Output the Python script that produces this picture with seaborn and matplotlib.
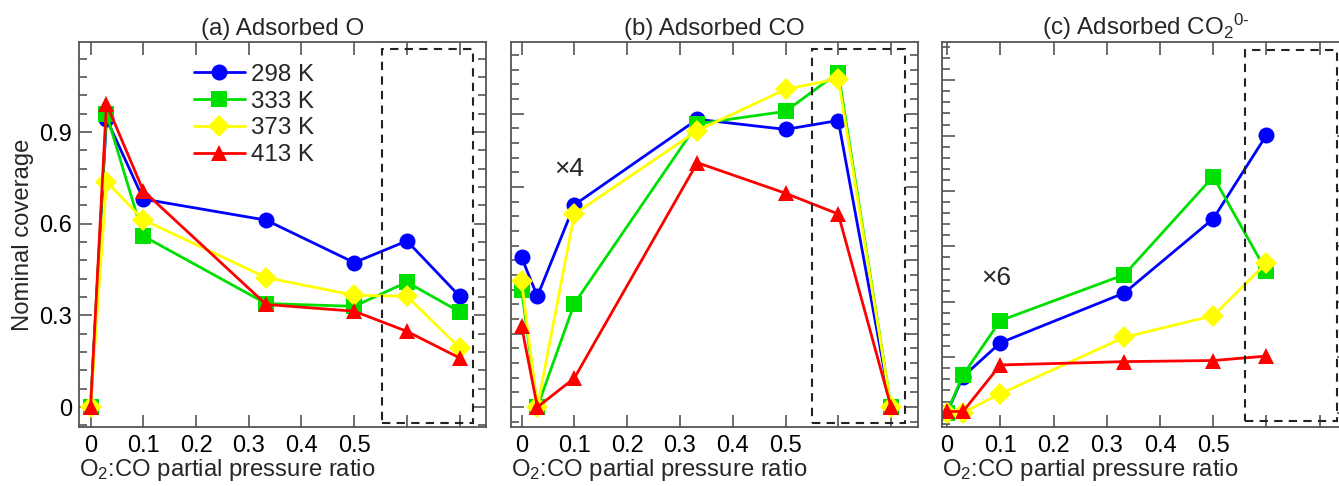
import seaborn as sns
import matplotlib.pyplot as plt
import pandas as pd
from matplotlib.ticker import MultipleLocator, FixedLocator, FixedFormatter
from matplotlib.patches import Rectangle

# x positions (0.6 and 0.7 are the unlabeled points inside the dashed box)
ratio = [0, 0.03, 0.1, 0.333, 0.5, 0.6, 0.7]
temps = ['298 K', '333 K', '373 K', '413 K']

# (a) adsorbed O
o_298 = [0, 0.944, 0.681, 0.612, 0.473, 0.544, 0.363]
o_333 = [0, 0.960, 0.560, 0.339, 0.330, 0.409, 0.312]
o_373 = [0, 0.738, 0.613, 0.424, 0.366, 0.363, 0.194]
o_413 = [0, 0.993, 0.708, 0.336, 0.314, 0.248, 0.161]

# (b) adsorbed CO (x4, as drawn)
co_298 = [0.490, 0.363, 0.662, 0.942, 0.909, 0.938, 0]
co_333 = [0.385, 0, 0.339, 0.927, 0.968, 1.095, 0]
co_373 = [0.413, 0, 0.632, 0.905, 1.040, 1.075, 0]
co_413 = [0.265, 0, 0.095, 0.800, 0.700, 0.632, 0]

# (c) adsorbed CO2 (x6, own scale), no point at 0.7
co2_298 = [0, 0.065, 0.126, 0.216, 0.350, 0.501]
co2_333 = [0, 0.068, 0.166, 0.249, 0.426, 0.255]
co2_373 = [0, 0, 0.034, 0.136, 0.175, 0.270]
co2_413 = [0.002, 0.002, 0.086, 0.092, 0.094, 0.102]

tick_pos = [0, 0.1, 0.2, 0.3, 0.4, 0.5, 0.6, 0.7]
tick_lab = ['0', '0.1', '0.2', '0.3', '0.4', '0.5', '', '']

colors = ['#0000ff', '#00e000', '#ffff00', '#ff0000']
markers = ['o', 's', 'D', '^']


def long_df(series):
    rows = []
    for t, vals in zip(temps, series):
        for x, y in zip(ratio, vals):
            rows.append({'ratio': x, 'cov': y, 'T': t})
    return pd.DataFrame(rows)


sns.set_style('ticks')
plt.rcParams['font.family'] = ['Liberation Sans', 'DejaVu Sans']
plt.rcParams['mathtext.fontset'] = 'custom'
plt.rcParams['mathtext.rm'] = 'Liberation Sans'
plt.rcParams['mathtext.it'] = 'Liberation Sans'

fig = plt.figure(figsize=(13.39, 4.86), dpi=100)
W, H = 1339, 486
lefts = [79, 511, 942]
axes = [fig.add_axes([l / W, (H - 427) / H, 407 / W, 385 / H]) for l in lefts]

panels = [
    (axes[0], [o_298, o_333, o_373, o_413], '(a) Adsorbed O', (-0.022, 0.75), (-0.065, 1.195), 0.3, 0.06),
    (axes[1], [co_298, co_333, co_373, co_413], '(b) Adsorbed CO', (-0.02, 0.751), (-0.065, 1.195), 0.24, 0.048),
    (axes[2], [co2_298, co2_333, co2_373, co2_413], r'(c) Adsorbed CO$_2$$^{0\text{-}}$', (-0.0095, 0.755), (-0.026, 0.669), 0.1, 0.02),
]

for i, (ax, series, title, xlim, ylim, maj, mnr) in enumerate(panels):
    df = long_df(series)
    sns.lineplot(data=df, x='ratio', y='cov', hue='T', style='T',
                 palette=colors, markers=markers, dashes=False,
                 linewidth=2, markersize=11.5, markeredgewidth=0,
                 legend=(i == 0), ax=ax)
    ax.set_xlim(*xlim)
    ax.set_ylim(*ylim)
    ax.xaxis.set_major_locator(FixedLocator(tick_pos))
    ax.xaxis.set_major_formatter(FixedFormatter(tick_lab))
    ax.yaxis.set_major_locator(MultipleLocator(maj))
    ax.yaxis.set_minor_locator(MultipleLocator(mnr))
    ax.tick_params(which='both', direction='in', top=True, right=True,
                   colors='#555555', labelcolor='black', labelsize=17, width=1.2)
    ax.tick_params(which='major', length=9)
    ax.tick_params(axis='x', which='major', pad=6)
    ax.tick_params(axis='y', which='major', pad=5)
    ax.tick_params(which='minor', length=6)
    for s in ax.spines.values():
        s.set_color('#555555')
        s.set_linewidth(1.3)
    ax.set_title(title, fontsize=17.4, pad=5)
    ax.set_xlabel(r'O$_2$:CO partial pressure ratio', fontsize=17.2, loc='left', labelpad=0)
    if i == 0:
        ax.set_ylabel('Nominal coverage', fontsize=17.2, labelpad=4)
        ax.yaxis.set_major_formatter(plt.FuncFormatter(lambda v, p: '0' if abs(v) < 1e-9 else f'{v:.1f}'))
    else:
        ax.set_ylabel('')
        ax.set_yticklabels([])

# dashed boxes around the last points
boxes = [(0.552, -0.053, 0.174, 1.224), (0.551, -0.053, 0.175, 1.224), (0.5596, -0.016, 0.172, 0.671)]
for ax, (bx, by, bw, bh) in zip(axes, boxes):
    ax.add_patch(Rectangle((bx, by), bw, bh, fill=False, ls=(0, (4, 3)),
                           lw=1.5, ec='#222222', zorder=5))

axes[1].text(0.09, 0.78, '×4', fontsize=19, ha='center', va='center')
axes[2].text(0.093, 0.243, '×6', fontsize=19, ha='center', va='center')

handles, labels = axes[0].get_legend_handles_labels()
axes[0].legend(handles, labels, loc='upper left', bbox_to_anchor=(0.253, 0.975),
               frameon=False, fontsize=17.4, handlelength=2.1, handletextpad=0.25,
               labelspacing=0.2, borderpad=0)

fig.savefig('out.png', dpi=100)
